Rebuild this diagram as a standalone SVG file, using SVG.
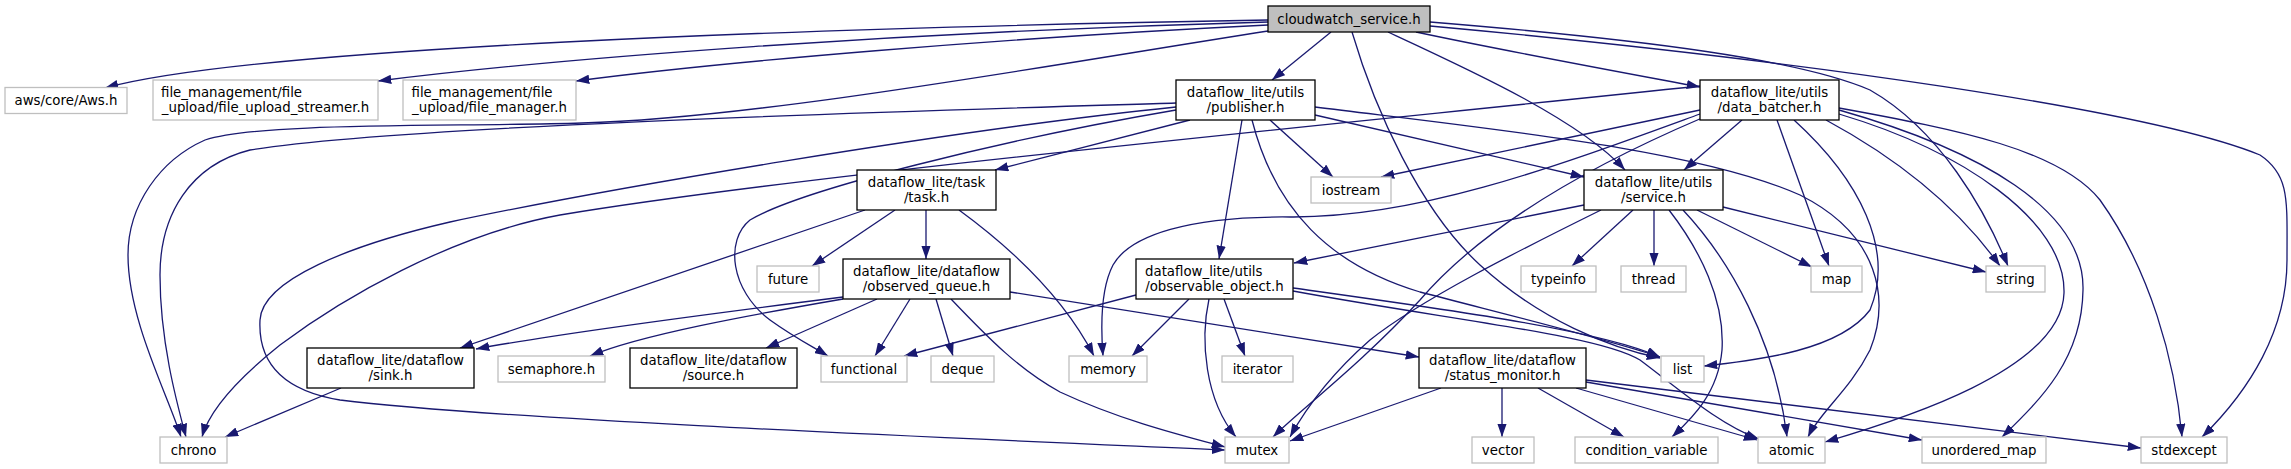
<svg xmlns="http://www.w3.org/2000/svg" width="2291" height="469" viewBox="0 0 2291 469">
<defs>
<marker id="ah" markerUnits="userSpaceOnUse" markerWidth="13.3" markerHeight="9.4" viewBox="0 0 10 7" refX="10" refY="3.5" orient="auto">
<path d="M0,0 L10,3.5 L0,7 z" fill="#191970" stroke="none"/>
</marker>
</defs>
<style>
.e{fill:none;stroke:#191970;stroke-width:1.3;marker-end:url(#ah)}
.b{fill:#ffffff;stroke:#000000;stroke-width:1.3}
.g{fill:#ffffff;stroke:#bfbfbf;stroke-width:1.3}
.r{fill:#bfbfbf;stroke:#000000;stroke-width:1.3}
text{font-family:"DejaVu Sans","Liberation Sans",sans-serif;font-size:13.33px;fill:#000000}
.m{text-anchor:middle}
</style>
<rect x="0" y="0" width="2291" height="469" fill="#ffffff"/>
<g id="edges">
<path class="e" d="M1268,20 C800,28 250,48 105,88"/>
<path class="e" d="M1268,22 C900,32 560,58 378,81"/>
<path class="e" d="M1268,25 C1000,38 720,62 576,81"/>
<path class="e" d="M1268,31 C1050,65 760,118 582,123 C450,127 260,122 205,140 C160,160 128,205 128,255 C128,320 168,395 181,437"/>
<path class="e" d="M1331,32 L1272,80"/>
<path class="e" d="M1352,32 C1375,110 1420,210 1480,265 C1540,320 1610,348 1660,358"/>
<path class="e" d="M1388,32 C1470,70 1580,120 1625,170"/>
<path class="e" d="M1416,32 C1500,50 1620,72 1700,87"/>
<path class="e" d="M1430,22 C1650,40 1800,60 1870,90 C1940,130 1985,210 2008,266"/>
<path class="e" d="M1430,26 C1800,60 2150,110 2260,155 C2290,175 2287,200 2287,260 C2287,330 2250,390 2202,437"/>
<path class="e" d="M1190,120 L995,170"/>
<path class="e" d="M1270,120 L1333,177"/>
<path class="e" d="M1242,120 L1219,259"/>
<path class="e" d="M1252,120 C1275,210 1330,265 1420,292 C1520,318 1610,340 1660,357"/>
<path class="e" d="M1315,115 L1584,177"/>
<path class="e" d="M1315,107 C1500,130 1700,150 1800,195 C1880,235 1890,300 1870,350 C1850,390 1820,412 1808,437"/>
<path class="e" d="M1176,103 C950,110 400,125 250,150 C190,165 160,215 160,275 C160,340 176,400 186,437"/>
<path class="e" d="M1176,107 C950,130 600,190 450,222 C350,245 262,280 260,320 C258,360 280,390 340,400 C500,420 1000,440 1225,450"/>
<path class="e" d="M1176,110 C1000,140 800,190 750,220 C725,240 730,290 770,320 C795,338 815,348 828,356"/>
<path class="e" d="M1700,86 C1300,128 800,175 560,215 C450,235 340,300 280,345 C230,385 208,415 202,437"/>
<path class="e" d="M1700,110 L1381,177"/>
<path class="e" d="M1700,114 C1560,165 1420,218 1290,217 C1190,216 1130,235 1113,265 C1100,290 1101,330 1103,356"/>
<path class="e" d="M1702,118 C1580,170 1480,230 1420,300 C1360,365 1300,410 1273,437"/>
<path class="e" d="M1742,120 L1684,170"/>
<path class="e" d="M1777,120 L1829,266"/>
<path class="e" d="M1794,120 C1860,180 1895,250 1870,310 C1840,350 1760,360 1704,366"/>
<path class="e" d="M1826,120 C1900,160 1960,210 2000,266"/>
<path class="e" d="M1839,108 C1960,130 2060,150 2100,200 C2150,270 2175,360 2182,437"/>
<path class="e" d="M1839,110 C1980,150 2085,210 2083,290 C2082,360 2040,400 2002,437"/>
<path class="e" d="M1839,114 C1960,150 2066,220 2064,293 C2062,370 1900,420 1825,442"/>
<path class="e" d="M1584,205 L1294,263"/>
<path class="e" d="M1601,210 C1520,250 1420,300 1370,340 C1330,375 1305,410 1290,437"/>
<path class="e" d="M1633,210 L1572,266"/>
<path class="e" d="M1654,210 L1654,266"/>
<path class="e" d="M1669,210 C1700,250 1725,300 1722,350 C1718,395 1690,420 1672,437"/>
<path class="e" d="M1683,210 C1730,260 1775,340 1787,437"/>
<path class="e" d="M1697,210 L1812,267"/>
<path class="e" d="M1723,207 L1986,272"/>
<path class="e" d="M865,210 L460,348"/>
<path class="e" d="M895,210 L812,266"/>
<path class="e" d="M926,210 L926,259"/>
<path class="e" d="M959,210 C1000,240 1060,290 1094,356"/>
<path class="e" d="M843,297 C700,315 550,335 476,349"/>
<path class="e" d="M843,299 C750,315 640,335 590,356"/>
<path class="e" d="M877,299 L766,348"/>
<path class="e" d="M910,299 L875,356"/>
<path class="e" d="M936,299 L953,356"/>
<path class="e" d="M951,299 C990,340 1020,370 1060,392 C1120,420 1180,435 1225,447"/>
<path class="e" d="M1010,292 L1419,357"/>
<path class="e" d="M1136,295 L904,356"/>
<path class="e" d="M1189,299 L1132,356"/>
<path class="e" d="M1209,299 C1200,340 1205,400 1236,437"/>
<path class="e" d="M1224,299 L1245,356"/>
<path class="e" d="M1293,288 C1450,310 1600,330 1660,357"/>
<path class="e" d="M1293,291 C1450,320 1600,335 1640,360 C1680,390 1720,425 1759,439"/>
<path class="e" d="M341,388 L225,437"/>
<path class="e" d="M1441,388 L1290,441"/>
<path class="e" d="M1502,388 L1502,437"/>
<path class="e" d="M1538,388 L1624,437"/>
<path class="e" d="M1576,388 L1757,440"/>
<path class="e" d="M1586,382 L1922,440"/>
<path class="e" d="M1586,380 L2141,448"/>
</g>
<g id="node-root"><rect class="r" x="1268" y="6" width="162" height="26"/><text class="m" x="1349" y="23.5">cloudwatch_service.h</text></g>
<g id="node-aws"><rect class="g" x="5" y="87.5" width="122" height="26"/><text class="m" x="66" y="105">aws/core/Aws.h</text></g>
<g id="node-streamer"><rect class="g" x="153" y="80" width="225" height="40"/><text x="161" y="97">file_management/file</text><text class="m" x="265.5" y="112">_upload/file_upload_streamer.h</text></g>
<g id="node-manager"><rect class="g" x="403" y="80" width="173" height="40"/><text x="411.5" y="97">file_management/file</text><text class="m" x="489.5" y="112">_upload/file_manager.h</text></g>
<g id="node-publisher"><rect class="b" x="1176" y="80" width="139" height="40"/><text class="m" x="1245.5" y="97">dataflow_lite/utils</text><text class="m" x="1245.5" y="112">/publisher.h</text></g>
<g id="node-data_batcher"><rect class="b" x="1700" y="80" width="139" height="40"/><text class="m" x="1769.5" y="97">dataflow_lite/utils</text><text class="m" x="1769.5" y="112">/data_batcher.h</text></g>
<g id="node-task"><rect class="b" x="857" y="170" width="139" height="40"/><text class="m" x="926.5" y="187">dataflow_lite/task</text><text class="m" x="926.5" y="202">/task.h</text></g>
<g id="node-iostream"><rect class="g" x="1311" y="177" width="80" height="26"/><text class="m" x="1351" y="194.5">iostream</text></g>
<g id="node-service"><rect class="b" x="1584" y="170" width="139" height="40"/><text class="m" x="1653.5" y="187">dataflow_lite/utils</text><text class="m" x="1653.5" y="202">/service.h</text></g>
<g id="node-future"><rect class="g" x="757" y="266" width="62" height="26"/><text class="m" x="788" y="283.5">future</text></g>
<g id="node-observed_queue"><rect class="b" x="843" y="259" width="167" height="40"/><text class="m" x="926.5" y="276">dataflow_lite/dataflow</text><text class="m" x="926.5" y="291">/observed_queue.h</text></g>
<g id="node-observable_object"><rect class="b" x="1136" y="259" width="157" height="40"/><text x="1145" y="276">dataflow_lite/utils</text><text class="m" x="1214.5" y="291">/observable_object.h</text></g>
<g id="node-typeinfo"><rect class="g" x="1521" y="266" width="75" height="26"/><text class="m" x="1558.5" y="283.5">typeinfo</text></g>
<g id="node-thread"><rect class="g" x="1621" y="266" width="65" height="26"/><text class="m" x="1653.5" y="283.5">thread</text></g>
<g id="node-map"><rect class="g" x="1811" y="266" width="51" height="26"/><text class="m" x="1836.5" y="283.5">map</text></g>
<g id="node-string"><rect class="g" x="1986" y="266" width="59" height="26"/><text class="m" x="2015.5" y="283.5">string</text></g>
<g id="node-sink"><rect class="b" x="307" y="348" width="167" height="40"/><text class="m" x="390.5" y="365">dataflow_lite/dataflow</text><text class="m" x="390.5" y="380">/sink.h</text></g>
<g id="node-semaphore"><rect class="g" x="498" y="356" width="107" height="26"/><text class="m" x="551.5" y="373.5">semaphore.h</text></g>
<g id="node-source"><rect class="b" x="630" y="348" width="167" height="40"/><text class="m" x="713.5" y="365">dataflow_lite/dataflow</text><text class="m" x="713.5" y="380">/source.h</text></g>
<g id="node-functional"><rect class="g" x="821" y="356" width="86" height="26"/><text class="m" x="864" y="373.5">functional</text></g>
<g id="node-deque"><rect class="g" x="931" y="356" width="63" height="26"/><text class="m" x="962.5" y="373.5">deque</text></g>
<g id="node-memory"><rect class="g" x="1069" y="356" width="78" height="26"/><text class="m" x="1108" y="373.5">memory</text></g>
<g id="node-iterator"><rect class="g" x="1222" y="356" width="71" height="26"/><text class="m" x="1257.5" y="373.5">iterator</text></g>
<g id="node-status_monitor"><rect class="b" x="1419" y="348" width="167" height="40"/><text class="m" x="1502.5" y="365">dataflow_lite/dataflow</text><text class="m" x="1502.5" y="380">/status_monitor.h</text></g>
<g id="node-list"><rect class="g" x="1661" y="356" width="43" height="26"/><text class="m" x="1682.5" y="373.5">list</text></g>
<g id="node-chrono"><rect class="g" x="160" y="437" width="67" height="26"/><text class="m" x="193.5" y="454.7">chrono</text></g>
<g id="node-mutex"><rect class="g" x="1225" y="437" width="64" height="26"/><text class="m" x="1257" y="454.7">mutex</text></g>
<g id="node-vector"><rect class="g" x="1472" y="437" width="62" height="26"/><text class="m" x="1503" y="454.7">vector</text></g>
<g id="node-condition_variable"><rect class="g" x="1575" y="437" width="143" height="26"/><text class="m" x="1646.5" y="454.7">condition_variable</text></g>
<g id="node-atomic"><rect class="g" x="1758" y="437" width="67" height="26"/><text class="m" x="1791.5" y="454.7">atomic</text></g>
<g id="node-unordered_map"><rect class="g" x="1922" y="437" width="124" height="26"/><text class="m" x="1984" y="454.7">unordered_map</text></g>
<g id="node-stdexcept"><rect class="g" x="2141" y="437" width="86" height="26"/><text class="m" x="2184" y="454.7">stdexcept</text></g>
</svg>
